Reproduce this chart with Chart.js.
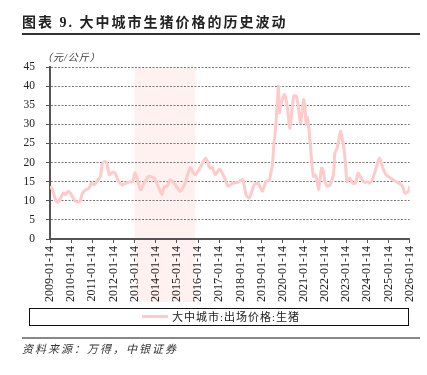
<!DOCTYPE html>
<html>
<head>
<meta charset="utf-8">
<script src="https://cdn.jsdelivr.net/npm/chart.js@4.4.1/dist/chart.umd.min.js"></script>
<style>
  body { margin: 0; background: #fff; }
  #wrap { position: relative; width: 427px; height: 375px; overflow: hidden; font-family: "Liberation Serif", "Noto Sans CJK SC", serif; color: #222; }
  #chart { position: absolute; left: 0; top: 0; }
  .abs { position: absolute; white-space: nowrap; }
  #title { left: 22px; top: 15px; font-size: 14px; font-weight: bold; letter-spacing: 2px; line-height: 16px; }
  #rule1 { left: 22px; top: 33px; width: 398px; height: 1.5px; background: #333; }
  #unit { left: 42px; top: 52px; font-size: 10px; letter-spacing: 1px; font-style: italic; color: #333; line-height: 12px; }
  #legend { left: 29px; top: 308px; width: 380px; height: 18px; border: 1px solid #111; box-sizing: border-box; }
  #legLine { left: 142px; top: 315px; width: 26px; height: 3px; background: #ffcaca; }
  #legText { left: 172px; top: 310px; font-size: 11px; letter-spacing: 1px; line-height: 14px; }
  #rule2 { left: 22px; top: 337px; width: 398px; height: 1.5px; background: #888; }
  #source { left: 22px; top: 342px; font-size: 11px; font-style: italic; letter-spacing: 2px; line-height: 14px; color: #333; }
</style>
</head>
<body>
<div id="wrap">
  <canvas id="chart" width="427" height="375"></canvas>
  <div class="abs" id="title">图表 9. 大中城市生猪价格的历史波动</div>
  <div class="abs" id="rule1"></div>
  <div class="abs" id="unit">（元/公斤）</div>
  <div class="abs" id="legend"></div>
  <div class="abs" id="legLine"></div>
  <div class="abs" id="legText">大中城市:出场价格:生猪</div>
  <div class="abs" id="rule2"></div>
  <div class="abs" id="source">资料来源：万得，中银证券</div>
</div>
<script>
// Data
const SERIES_NAME = '大中城市:出场价格:生猪';
const tickLabels = [
  '2009-01-14', '2010-01-14', '2011-01-14', '2012-01-14', '2013-01-14', '2014-01-14',
  '2015-01-14', '2016-01-14', '2017-01-14', '2018-01-14', '2019-01-14', '2020-01-14',
  '2021-01-14', '2022-01-14', '2023-01-14', '2024-01-14', '2025-01-14', '2026-01-14'
];
const dates = [
  '2009-01-14', '2009-02-25', '2009-04-08', '2009-05-20', '2009-07-01', '2009-08-29', '2009-10-08', '2009-11-25',
  '2010-01-01', '2010-02-17', '2010-04-01', '2010-06-10', '2010-07-27', '2010-09-20', '2010-11-17', '2010-12-27',
  '2011-02-20', '2011-04-20', '2011-06-03', '2011-07-02', '2011-08-11', '2011-09-20', '2011-11-03',
  '2012-01-01', '2012-02-10', '2012-04-12', '2012-06-17', '2012-08-14', '2012-10-23', '2012-12-06',
  '2013-01-23', '2013-04-27', '2013-06-24', '2013-09-16', '2013-12-08',
  '2014-01-08', '2014-03-07', '2014-05-01', '2014-06-03', '2014-07-27', '2014-09-20', '2014-12-16',
  '2015-03-10', '2015-06-03', '2015-08-29', '2015-11-22',
  '2016-02-17', '2016-05-22', '2016-08-03', '2016-09-20', '2016-11-06',
  '2017-01-23', '2017-04-17', '2017-06-14', '2017-09-06', '2017-11-29',
  '2018-02-25', '2018-04-20', '2018-06-17', '2018-09-09', '2018-11-17',
  '2019-01-30', '2019-03-29', '2019-05-27', '2019-06-21', '2019-07-20', '2019-08-15', '2019-09-06',
  '2019-10-12', '2019-10-31', '2019-11-18', '2019-12-06',
  '2020-01-08', '2020-02-14', '2020-04-01', '2020-05-15', '2020-06-24', '2020-07-23', '2020-09-05',
  '2020-10-12', '2020-11-14', '2020-12-13',
  '2021-01-11', '2021-02-02', '2021-02-24', '2021-03-14', '2021-04-05', '2021-05-05', '2021-05-30',
  '2021-06-28', '2021-07-27', '2021-08-25', '2021-09-24', '2021-10-19', '2021-11-17', '2021-12-16',
  '2022-01-15', '2022-02-24', '2022-04-09', '2022-06-07', '2022-07-02', '2022-07-31', '2022-08-29',
  '2022-10-08', '2022-11-10', '2022-12-09',
  '2023-01-08', '2023-01-30', '2023-03-15', '2023-05-01', '2023-06-21', '2023-08-08', '2023-10-02', '2023-11-29',
  '2024-01-23', '2024-02-25', '2024-04-20', '2024-06-14', '2024-08-11', '2024-10-08', '2024-12-02',
  '2025-02-25', '2025-05-23', '2025-07-17', '2025-09-13', '2025-10-27', '2025-12-24', '2026-01-14'
];
const prices = [
  13.8, 12.9, 10.7, 9.6, 10.3, 12.0, 11.6, 12.5,
  12.0, 10.7, 9.8, 9.8, 12.0, 12.9, 13.3, 14.6,
  14.2, 15.5, 16.4, 19.5, 20.3, 19.9, 16.8,
  17.5, 17.3, 15.0, 14.2, 14.6, 15.0, 14.9,
  17.3, 12.9, 14.6, 16.4, 16.0,
  15.4, 13.3, 11.6, 13.6, 13.8, 15.5, 14.2,
  12.5, 14.6, 18.6, 16.8,
  18.6, 21.2, 18.6, 18.6, 16.8,
  18.3, 15.9, 13.8, 14.6, 14.8,
  15.5, 11.6, 10.7, 14.2, 14.6,
  12.5, 15.0, 15.3, 17.2, 19.5, 25.0, 27.8,
  35.5, 40.0, 33.0, 34.8,
  36.5, 37.8, 34.8, 29.0, 33.9, 37.4, 37.4,
  34.4, 30.4, 33.0,
  36.5, 34.4, 30.0, 31.8, 29.5, 24.7, 19.9,
  16.4, 16.8, 15.5, 12.9, 15.5, 18.6, 17.7,
  15.0, 13.8, 14.2, 16.8, 22.5, 23.4, 25.1,
  28.2, 26.0, 23.4,
  18.6, 15.0, 16.0, 14.6, 14.6, 17.2, 15.9, 14.8,
  15.0, 14.6, 15.9, 18.6, 21.2, 18.6, 16.8,
  15.9, 15.0, 14.6, 13.8, 12.0, 12.5, 13.8
];
// shaded period
const shadeStart = '2013-01-14';
const shadeEnd = '2015-11-20';

// date string -> fractional year
function yearFrac(s) {
  const [y, m, d] = s.split('-').map(Number);
  return y + ((m - 1) * 30.44 + d - 1) / 365.25;
}

const shadePlugin = {
  id: 'shade',
  beforeDraw(chart) {
    const { ctx, chartArea, scales: { x } } = chart;
    const x0 = x.getPixelForValue(yearFrac(shadeStart));
    const x1 = x.getPixelForValue(yearFrac(shadeEnd));
    ctx.save();
    ctx.fillStyle = '#fff1ef';
    ctx.fillRect(x0, chartArea.top, x1 - x0, 302 - chartArea.top);
    ctx.restore();
  }
};

new Chart(document.getElementById('chart'), {
  type: 'line',
  data: {
    datasets: [{
      label: SERIES_NAME,
      data: dates.map((d, i) => ({ x: yearFrac(d), y: prices[i] })),
      borderColor: '#ffcaca',
      borderWidth: 3,
      pointRadius: 0,
      tension: 0.25,
      fill: false
    }]
  },
  options: {
    responsive: false,
    animation: false,
    layout: { padding: { left: 0, top: 67, right: 13, bottom: 0 } },
    plugins: { legend: { display: false }, tooltip: { enabled: false } },
    scales: {
      x: {
        type: 'linear',
        min: yearFrac(tickLabels[0]),
        max: yearFrac(tickLabels[tickLabels.length - 1]),
        afterBuildTicks: scale => { scale.ticks = tickLabels.map(l => ({ value: yearFrac(l) })); },
        afterFit: scale => { scale.height = 136; },
        ticks: {
          autoSkip: false,
          minRotation: 90,
          maxRotation: 90,
          padding: 3,
          color: '#222',
          font: { family: 'Liberation Serif', size: 12 },
          callback: (v, i) => tickLabels[i]
        },
        grid: { drawOnChartArea: false, tickLength: 4, color: '#555', tickWidth: 1 },
        border: { color: '#555', width: 2 }
      },
      y: {
        min: 0,
        max: 45,
        afterFit: scale => { scale.width = 50; },
        ticks: {
          stepSize: 5,
          padding: 11,
          color: '#222',
          font: { family: 'Liberation Serif', size: 11.5 }
        },
        grid: { color: '#777', lineWidth: 1, tickLength: 4, tickColor: '#555', tickBorderDash: [] },
        border: { color: '#555', width: 2, dash: [2, 1.5] }
      }
    }
  },
  plugins: [shadePlugin]
});
</script>
</body>
</html>
